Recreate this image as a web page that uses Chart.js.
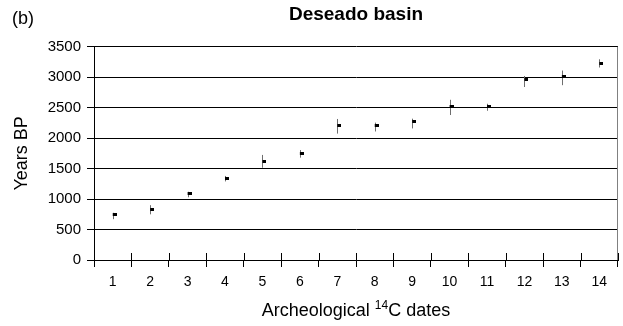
<!DOCTYPE html>
<html lang="en">
<head>
    <meta charset="UTF-8">
    <title>Deseado basin</title>
    <script src="https://cdn.jsdelivr.net/npm/chart.js@4.4.1/dist/chart.umd.min.js"></script>
    <style>
        body { margin: 0; background: #fff; }
        canvas { display: block; }
    </style>
</head>
<body>
    <canvas id="mychart" width="623" height="326"></canvas>
<script>
    // radiocarbon dates
    const dateLabels = ['1', '2', '3', '4', '5', '6', '7', '8', '9', '10', '11', '12', '13', '14'];
    const yearsBP = [740, 822, 1084, 1336, 1616, 1753, 2207, 2207, 2267, 2519, 2519, 2957, 3007, 3231];
    const errHigh = [775, 900, 1120, 1380, 1725, 1805, 2315, 2255, 2320, 2630, 2565, 3020, 3110, 3295];
    const errLow  = [670, 750, 1030, 1290, 1515, 1680, 2075, 2110, 2160, 2380, 2450, 2840, 2870, 3160];
    const yTicks = [0, 500, 1000, 1500, 2000, 2500, 3000, 3500];

    const FONT = "'Liberation Sans', Arial, sans-serif";

    // little flag marker: black block just right of the point
    const marker = document.createElement('canvas');
    marker.width = 8;
    marker.height = 3;
    const mctx = marker.getContext('2d');
    mctx.fillStyle = '#000';
    mctx.fillRect(4, 0, 4, 3);

    // error bars, upper half of the x ticks, right border, "(b)", x title with superscript
    const extras = {
        id: 'extras',
        beforeDatasetsDraw(chart) {
            const ctx = chart.ctx;
            const x = chart.scales.x, y = chart.scales.y;
            ctx.save();
            ctx.strokeStyle = '#6e6e6e';
            ctx.lineWidth = 1;
            yearsBP.forEach((v, i) => {
                const px = Math.round(x.getPixelForValue(i)) + 0.5;
                ctx.beginPath();
                ctx.moveTo(px, y.getPixelForValue(errHigh[i]));
                ctx.lineTo(px, y.getPixelForValue(errLow[i]));
                ctx.stroke();
            });
            ctx.restore();
        },
        afterDraw(chart) {
            const ctx = chart.ctx;
            const x = chart.scales.x;
            const area = chart.chartArea;
            ctx.save();
            ctx.strokeStyle = '#000';
            ctx.lineWidth = 1;
            for (let i = 0; i <= dateLabels.length; i++) {
                const px = Math.round(x.getPixelForValue(i - 0.5)) + 0.5;
                ctx.beginPath();
                ctx.moveTo(px, area.bottom - 7);
                ctx.lineTo(px, area.bottom);
                ctx.stroke();
            }
            ctx.strokeStyle = '#808080';
            ctx.beginPath();
            ctx.moveTo(Math.round(area.right) - 0.5, area.top);
            ctx.lineTo(Math.round(area.right) - 0.5, area.bottom);
            ctx.stroke();

            ctx.fillStyle = '#000';
            ctx.textBaseline = 'middle';
            ctx.font = '18px ' + FONT;
            ctx.fillText('(b)', 12, 19);

            // "Archeological 14C dates" with a raised, smaller 14
            const big = '18px ' + FONT, small = '12px ' + FONT;
            const partA = 'Archeological ', partB = '14', partC = 'C dates';
            ctx.font = big;
            const wA = ctx.measureText(partA).width, wC = ctx.measureText(partC).width;
            ctx.font = small;
            const wB = ctx.measureText(partB).width;
            const cx = (area.left + area.right) / 2;
            let tx = cx - (wA + wB + wC) / 2;
            const ty = 311;
            ctx.textAlign = 'left';
            ctx.font = big;
            ctx.fillText(partA, tx, ty);
            tx += wA;
            ctx.font = small;
            ctx.fillText(partB, tx, ty - 5);
            tx += wB;
            ctx.font = big;
            ctx.fillText(partC, tx, ty);
            ctx.restore();
        }
    };

    chartIt();

    function chartIt() {
        const ctx = document.getElementById('mychart').getContext('2d');
        const myChart = new Chart(ctx, {
            type: 'line',
            data: {
                labels: dateLabels,
                datasets: [{
                    label: 'Years BP',
                    data: yearsBP,
                    showLine: false,
                    pointStyle: marker,
                    pointRadius: 4,
                    pointHoverRadius: 4
                }]
            },
            options: {
                responsive: false,
                animation: false,
                layout: { padding: { left: 0, right: 4, top: 0, bottom: 0 } },
                plugins: {
                    legend: { display: false },
                    tooltip: { enabled: false },
                    title: {
                        display: true,
                        text: 'Deseado basin',
                        fullSize: false,
                        color: '#000',
                        font: { family: FONT, size: 19, weight: 'bold' },
                        padding: { top: 3, bottom: 21 }
                    }
                },
                scales: {
                    x: {
                        offset: true,
                        afterFit: s => { s.height = 66; },
                        grid: { display: true, drawOnChartArea: false, offset: true, tickLength: 7, color: '#000' },
                        border: { color: '#000' },
                        ticks: { color: '#000', padding: 7, font: { family: FONT, size: 14 } }
                    },
                    y: {
                        min: 0,
                        max: 3500,
                        afterFit: s => { s.width = 94; },
                        afterBuildTicks: s => { s.ticks = yTicks.map(v => ({ value: v })); },
                        grid: { color: '#000', tickLength: 7 },
                        border: { color: '#000' },
                        ticks: {
                            color: '#000',
                            padding: 6,
                            font: { family: FONT, size: 15 },
                            callback: value => String(value)
                        },
                        title: {
                            display: true,
                            text: 'Years BP',
                            color: '#000',
                            font: { family: FONT, size: 18 },
                            padding: { top: 11, bottom: 0 }
                        }
                    }
                }
            },
            plugins: [extras]
        });
    }
</script>
</body>
</html>
